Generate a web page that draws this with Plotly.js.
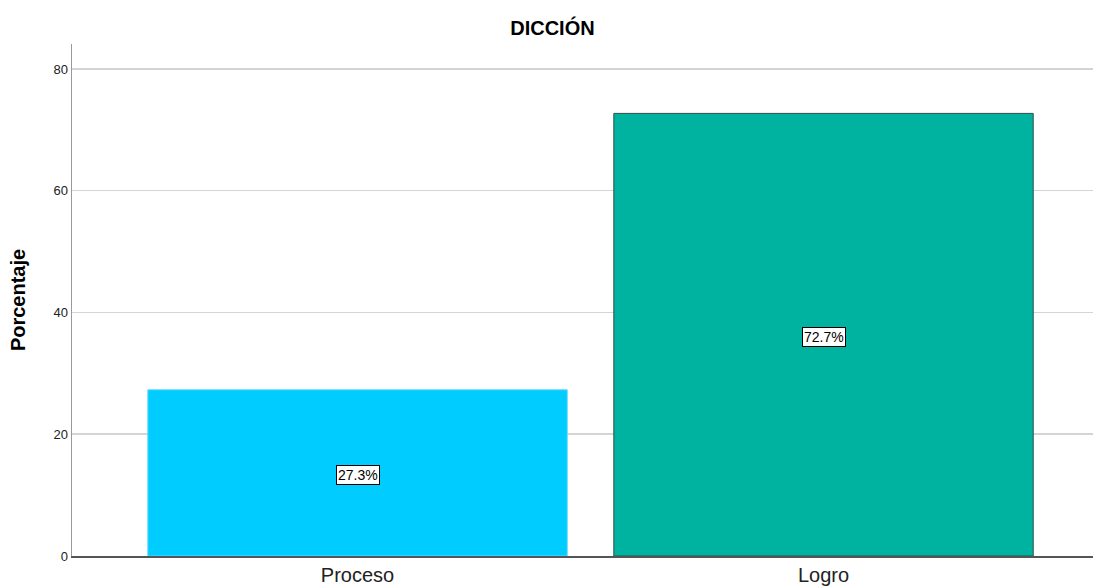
<!DOCTYPE html>
<html><head><meta charset="utf-8">
<script src="https://cdn.plot.ly/plotly-3.0.1.min.js"></script>
<style>html,body{margin:0;padding:0;background:#fff}#chart{width:1094px;height:587px}</style>
</head><body><div id="chart"></div>
<script>
var categories = ["Proceso", "Logro"];
var percentages = [27.3, 72.7];
var barColors = ["#00CCFF", "#00B2A0"];
var barLineColors = ["#5FD8FF", "#2F4F4A"];
var yTickValues = [0, 20, 40, 60, 80];

var trace = {
  type: "bar",
  x: categories,
  y: percentages,
  width: 0.9,
  marker: {color: barColors, line: {color: barLineColors, width: 1}},
  hoverinfo: "none"
};

var annotations = categories.map(function (c, i) {
  return {
    x: c, y: percentages[i] / 2, xref: "x", yref: "y",
    text: percentages[i].toFixed(1) + "%",
    showarrow: false, yshift: -2,
    bgcolor: "#ffffff", bordercolor: "#000000", borderwidth: 1, borderpad: 1,
    font: {family: "Arial, Liberation Sans, sans-serif", size: 14, color: "#000"}
  };
});

var layout = {
  width: 1094, height: 587,
  margin: {l: 72, r: 1, t: 44, b: 31},
  paper_bgcolor: "#fff", plot_bgcolor: "#fff",
  title: {text: "<b>DICCIÓN</b>", x: 0.505, xref: "container", xanchor: "center", y: 0.953, yanchor: "middle",
          font: {family: "Arial, Liberation Sans, sans-serif", size: 20, color: "#000"}},
  xaxis: {
    range: [-0.6127, 1.5783],
    showline: true, linecolor: "#555", linewidth: 1.5,
    ticks: "", showgrid: false,
    tickfont: {family: "Arial, Liberation Sans, sans-serif", size: 20, color: "#222"}
  },
  yaxis: {
    range: [0, 84.1],
    tickvals: yTickValues,
    showline: true, linecolor: "#999", linewidth: 1.5,
    ticks: "", showgrid: true, gridcolor: "#d4d4d4", gridwidth: 1.5,
    zeroline: false,
    tickfont: {family: "Arial, Liberation Sans, sans-serif", size: 13, color: "#222"},
    title: {text: "<b>Porcentaje</b>", standoff: 22,
            font: {family: "Arial, Liberation Sans, sans-serif", size: 20, color: "#000"}}
  },
  annotations: annotations,
  showlegend: false
};

Plotly.newPlot("chart", [trace], layout, {displayModeBar: false, staticPlot: true});
</script></body></html>
